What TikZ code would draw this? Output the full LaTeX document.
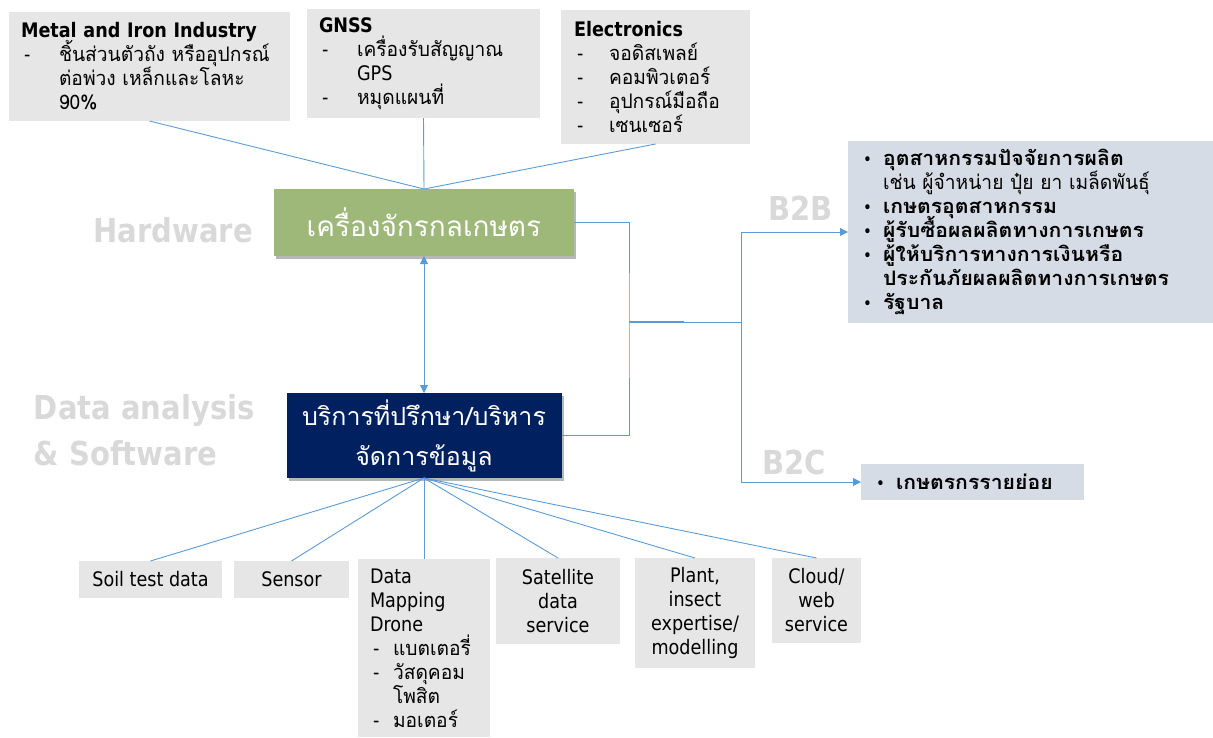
\documentclass[tikz,border=0pt]{standalone}
\usepackage{fontspec}
\setmainfont{DejaVu Sans}[FakeStretch=0.88]
\newfontfamily\thf[Script=Thai, FakeStretch=0.96, BoldFeatures={FakeStretch=1.06}]{Loma}
\newfontfamily\thbig[Script=Thai]{Loma}
\usetikzlibrary{shadows,arrows.meta}

\definecolor{boxgray}{HTML}{E7E6E6}
\definecolor{linkblue}{HTML}{5B9BD5}
\definecolor{machgreen}{HTML}{9EB87A}
\definecolor{servnavy}{HTML}{002060}
\definecolor{tagray}{HTML}{D9D9D9}
\definecolor{custfill}{HTML}{D6DCE5}

% body text: fixed 24pt line pitch, even for lines with stacked Thai marks
\newcommand\bodyfont{\fontsize{20}{24}\selectfont\lineskiplimit=-30pt\relax\lineskip=0pt\relax}
% list helpers: dash item, continuation line, bullet item
\newcommand\dashitem[2][38pt]{\mbox{\makebox[#1][l]{\hspace{3pt}-}{\thf #2}}}
\newcommand\contline[2][38pt]{\mbox{\hspace*{#1}{\thf #2}}}
\newcommand\bulitem[1]{\mbox{\makebox[21pt][l]{\hspace{1pt}\fontsize{17}{24}\selectfont •}{\thf\bfseries #1}}}

\begin{document}
\begin{tikzpicture}[x=1pt,y=-1pt,
  every node/.style={inner sep=0pt, outer sep=0pt},
  body/.style={font=\bodyfont},
  graybox/.style={body, fill=boxgray, inner xsep=12pt},
  custbox/.style={body, fill=custfill, inner xsep=14pt, align=left},
  tag/.style={text=tagray, font=\bfseries\fontsize{33}{46}\selectfont},
  link/.style={draw=linkblue, line width=0.9pt},
  tip/.style={-{Triangle[length=8pt,width=8pt]}},
  mainshadow/.style={drop shadow={shadow xshift=2pt, shadow yshift=-3pt, opacity=0.4, fill=black!70}}
]
\useasboundingbox (0,0) rectangle (1213,737);

% supplier boxes
\node[graybox, minimum width=281, minimum height=109, text width=257, align=left] (metal) at (149.5,66.5)
  {\textbf{Metal and Iron Industry}\\
   \dashitem{ชิ้นส่วนตัวถัง หรืออุปกรณ์}\\
   \contline{ต่อพ่วง เหล็กและโลหะ}\\
   \contline{90\%}};
\node[graybox, minimum width=233, minimum height=109, text width=209, align=left] (gnss) at (423.5,63.5)
  {\textbf{GNSS}\\
   \dashitem{เครื่องรับสัญญาณ}\\
   \hspace*{38pt}GPS\\
   \dashitem{หมุดแผนที่}};
\node[graybox, minimum width=189, minimum height=134, text width=163, inner xsep=13pt, align=left] (elec) at (655.5,77)
  {\textbf{Electronics}\\
   \dashitem[35pt]{จอดิสเพลย์}\\
   \dashitem[35pt]{คอมพิวเตอร์}\\
   \dashitem[35pt]{อุปกรณ์มือถือ}\\
   \dashitem[35pt]{เซนเซอร์}};

% central boxes
\node[fill=machgreen, mainshadow, minimum width=300, minimum height=67, text=white,
      font=\thbig\fontsize{28}{34}\selectfont] (mach) at (424,222.5) {เครื่องจักรกลเกษตร};
\node[fill=servnavy, mainshadow, minimum width=275, minimum height=85, text=white, align=center,
      font=\thbig\fontsize{25}{40}\selectfont] (serv) at (424,435.5) {บริการที่ปรึกษา/บริหาร\\จัดการข้อมูล};

% layer tags
\node[tag] (hwtag) at (173,230) {Hardware};
\node[tag, anchor=west, align=left] (swtag) at (34,430) {Data analysis\\\& Software};
\node[tag] (b2btag) at (800.5,208) {B2B};
\node[tag] (b2ctag) at (794,462) {B2C};

% customer boxes
\node[custbox, minimum width=365, minimum height=182, text width=337] (b2b) at (1030.5,232)
  {\bulitem{อุตสาหกรรมปัจจัยการผลิต}\\
   \mbox{\hspace*{21pt}{\thf เช่น ผู้จำหน่าย ปุ๋ย ยา เมล็ดพันธุ์}}\\
   \bulitem{เกษตรอุตสาหกรรม}\\
   \bulitem{ผู้รับซื้อผลผลิตทางการเกษตร}\\
   \bulitem{ผู้ให้บริการทางการเงินหรือ}\\
   \mbox{\hspace*{21pt}{\thf\bfseries ประกันภัยผลผลิตทางการเกษตร}}\\
   \bulitem{รัฐบาล}};
\node[custbox, minimum width=223, minimum height=36, text width=195] (b2c) at (972.5,482)
  {\bulitem{เกษตรกรรายย่อย}};

% data source boxes
\node[graybox, minimum width=143, minimum height=37] (soil) at (150.5,579.5) {Soil test data};
\node[graybox, minimum width=115, minimum height=37] (sensor) at (291.5,579.5) {Sensor};
\node[graybox, minimum width=132, minimum height=178, text width=108, align=left] (drone) at (424,648)
  {Data\\Mapping\\Drone\\
   \dashitem[23pt]{แบตเตอรี่}\\
   \dashitem[23pt]{วัสดุคอม}\\
   \contline[23pt]{โพสิต}\\
   \dashitem[23pt]{มอเตอร์}};
\node[graybox, minimum width=124, minimum height=86, align=center] (sat) at (558,601) {Satellite\\data\\service};
\node[graybox, minimum width=120, minimum height=110, align=center] (plant) at (695,613) {Plant,\\insect\\expertise/\\modelling};
\node[graybox, minimum width=89, minimum height=85, align=center] (cloud) at (816.5,600.5) {Cloud/\\web\\service};

% junction points of the right-hand bus
\coordinate (bus) at (629,322);
\coordinate (busend) at (684,322);
\coordinate (split) at (741,322);

% connectors
\foreach \s in {metal,gnss,elec} \draw[link] (\s.south) -- (mach.north);
\draw[link, {Triangle[length=8pt,width=8pt]}-{Triangle[length=8pt,width=8pt]}] (mach.south) -- (serv.north);
\foreach \d in {soil,sensor,drone,sat,plant,cloud} \draw[link] (serv.south) -- (\d.north);
\draw[link] (mach.east) -| (bus) |- (serv.east);
\draw[link] (bus) -- (split);
\draw[draw=linkblue, line width=1.8pt] (bus) -- (busend);
\draw[link, tip] (split) |- (b2b.west);
\draw[link, tip] (split) |- (b2c.west);
\end{tikzpicture}
\end{document}
